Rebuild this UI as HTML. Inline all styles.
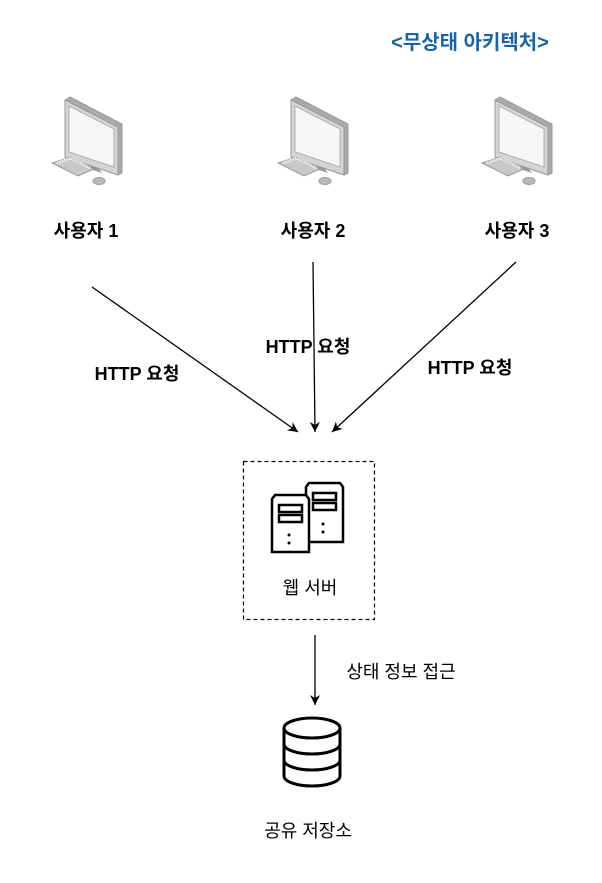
<!DOCTYPE html>
<html><head><meta charset="utf-8"><style>
body{margin:0;background:#fff;}
svg text{font-family:"Liberation Sans","Noto Sans CJK KR",sans-serif;font-size:18px;fill:#000;}
</style></head><body>
<svg width="602" height="878" viewBox="0 0 602 878" xmlns="http://www.w3.org/2000/svg">
<defs>
<g id="pc">
  <polygon points="20,58 44,68 50,76 26,68" fill="#9a9a9a"/>
  <polygon points="13,3 18,0 70,27 70,76 66,78 13,60" fill="#aaa" stroke="#999"/>
  <polygon points="13,3 66,30 66,78 13,60" fill="#d4d4d4" stroke="#999"/>
  <polygon points="17,9 62,32 62,70 17,55" fill="#f6f6f6" stroke="#b0b0b0"/>
  <polygon points="0,66 18,60 42,72 26,79" fill="#c8c8c8" stroke="#999"/>
  <polyline points="5,66 19,61 38,71" fill="none" stroke="#eee" stroke-width="3" stroke-dasharray="1.5,1"/>
  <ellipse cx="47" cy="84" rx="6" ry="3.5" fill="#bbb" stroke="#999"/>
</g>
<marker id="ah" markerWidth="12" markerHeight="12" refX="10" refY="6" orient="auto" markerUnits="userSpaceOnUse">
  <path d="M0,1 L10,6 L0,11 L3,6 Z" fill="#000"/>
</marker>
</defs>
<text x="470" y="49" text-anchor="middle" style="fill:#1a63a6;font-weight:bold;font-size:20px">&lt;무상태 아키텍처&gt;</text>
<use href="#pc" x="52" y="97"/>
<use href="#pc" x="278" y="97"/>
<use href="#pc" x="482" y="97"/>
<text x="86" y="237" text-anchor="middle" font-weight="bold">사용자 1</text>
<text x="313" y="237" text-anchor="middle" font-weight="bold">사용자 2</text>
<text x="517" y="237" text-anchor="middle" font-weight="bold">사용자 3</text>
<line x1="92" y1="287" x2="298" y2="432" stroke="#000" stroke-width="1.3" marker-end="url(#ah)"/>
<line x1="313" y1="262" x2="315" y2="432" stroke="#000" stroke-width="1.3" marker-end="url(#ah)"/>
<line x1="516" y1="262" x2="332" y2="432" stroke="#000" stroke-width="1.3" marker-end="url(#ah)"/>
<text x="137" y="380" text-anchor="middle" font-weight="bold">HTTP 요청</text>
<text x="308" y="353" text-anchor="middle" font-weight="bold">HTTP 요청</text>
<text x="470" y="374" text-anchor="middle" font-weight="bold">HTTP 요청</text>
<rect x="243.5" y="461.5" width="131" height="158" fill="none" stroke="#000" stroke-dasharray="4,3" stroke-width="1.2"/>
<g fill="#fff" stroke="#000" stroke-width="2.5">
  <path d="M306,542 V487 L309,483 H340 L343,487 V542 Z"/>
  <rect x="313" y="493" width="23" height="7"/><rect x="313" y="503" width="23" height="7"/>
  <path d="M272,552 V499 L275,495 H306 L309,499 V552 Z"/>
  <rect x="279" y="505" width="23" height="7"/><rect x="279" y="515" width="23" height="7"/>
</g>
<g fill="#000"><circle cx="323" cy="524" r="1.5"/><circle cx="323" cy="532" r="1.5"/><circle cx="289" cy="535" r="1.5"/><circle cx="289" cy="543" r="1.5"/></g>
<text x="310" y="594" text-anchor="middle">웹 서버</text>
<line x1="315" y1="635" x2="315" y2="705" stroke="#000" stroke-width="1.3" marker-end="url(#ah)"/>
<text x="401" y="678" text-anchor="middle">상태 정보 접근</text>
<g fill="#fff" stroke="#000" stroke-width="3">
  <path d="M284,728 V776 A28,10 0 0 0 340,776 V728"/>
  <ellipse cx="312" cy="728" rx="28" ry="10"/>
  <path d="M284,744 A28,10 0 0 0 340,744" fill="none"/>
  <path d="M284,760 A28,10 0 0 0 340,760" fill="none"/>
</g>
<text x="308" y="837" text-anchor="middle">공유 저장소</text>
</svg>
</body></html>
